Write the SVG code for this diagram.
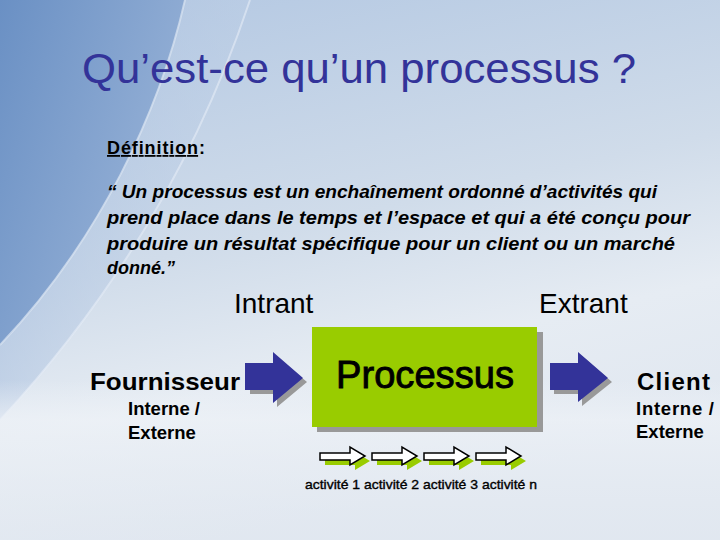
<svg xmlns="http://www.w3.org/2000/svg" width="720" height="540" viewBox="0 0 720 540">
<defs>
<linearGradient id="bg" x1="0" y1="0" x2="0.3" y2="1">
<stop offset="0" stop-color="#b2c7e2"/>
<stop offset="0.5" stop-color="#d0dcea"/>
<stop offset="0.75" stop-color="#e6ecf3"/>
<stop offset="1" stop-color="#e0e7f0"/>
</linearGradient>
<linearGradient id="sw" x1="0" y1="0" x2="1" y2="0.6">
<stop offset="0" stop-color="#6a90c4"/>
<stop offset="1" stop-color="#9ab4d8"/>
</linearGradient>
<linearGradient id="sw2" x1="0" y1="0" x2="1" y2="0.5">
<stop offset="0" stop-color="#a3bbdc" stop-opacity="0.8"/>
<stop offset="1" stop-color="#c3d3e8" stop-opacity="0.3"/>
</linearGradient>
<linearGradient id="hz" x1="0" y1="0" x2="0" y2="1">
<stop offset="0" stop-color="#eef2f7" stop-opacity="0"/>
<stop offset="0.25" stop-color="#eef2f7" stop-opacity="0.7"/>
<stop offset="1" stop-color="#e2e8f0" stop-opacity="0.4"/>
</linearGradient>
<style>
.t{font-family:"Liberation Sans",Arial,sans-serif;}
.b{font-weight:bold;}
.q{font-family:"Liberation Sans",Arial,sans-serif;font-weight:bold;font-style:italic;font-size:18px;fill:#000;}
.lbl{font-family:"Liberation Sans",Arial,sans-serif;font-size:28px;fill:#000;}
.blue{fill:#333399;}
.sh{fill:#999999;}
.act{fill:#ffffff;stroke:#000;stroke-width:1.5;}
.actsh{fill:#99cc00;}
</style>
</defs>
<rect width="720" height="540" fill="url(#bg)"/>
<path d="M0,0 L250,0 C210,120 140,270 0,420 Z" fill="url(#sw2)"/>
<path d="M0,0 L185,0 C160,110 100,240 0,345 Z" fill="url(#sw)"/>
<path d="M0,345 C100,240 160,110 185,0" fill="none" stroke="#dbe5f2" stroke-width="2" opacity="0.7"/>
<path d="M0,420 C140,270 210,120 250,0" fill="none" stroke="#e6edf6" stroke-width="2" opacity="0.6"/>
<rect x="0" y="380" width="720" height="160" fill="url(#hz)"/>

<g id="title"><text class="t" x="82" y="83" font-size="43" fill="#333399" textLength="554" lengthAdjust="spacingAndGlyphs">Qu’est-ce qu’un processus ?</text></g>

<g id="definition">
<text class="t b" x="107" y="154" font-size="18" textLength="98" lengthAdjust="spacing"><tspan text-decoration="underline">Définition</tspan>:</text>
<text class="q" x="107" y="198" textLength="550" lengthAdjust="spacingAndGlyphs">“ Un processus est un enchaînement ordonné d’activités qui</text>
<text class="q" x="107" y="224" textLength="583" lengthAdjust="spacingAndGlyphs">prend place dans le temps et l’espace et qui a été conçu pour</text>
<text class="q" x="107" y="250" textLength="568" lengthAdjust="spacingAndGlyphs">produire un résultat spécifique pour un client ou un marché</text>
<text class="q" x="107" y="274">donné.”</text>
</g>

<g id="intrant"><text class="lbl" x="234" y="313">Intrant</text></g>
<g id="extrant"><text class="lbl" x="539" y="313">Extrant</text></g>

<g id="fournisseur">
<text class="t b" x="90" y="390" font-size="24" textLength="150" lengthAdjust="spacingAndGlyphs">Fournisseur</text>
<text class="t b" x="128" y="415" font-size="18.5">Interne /</text>
<text class="t b" x="128" y="439" font-size="18.5">Externe</text>
</g>

<g id="processus">
<rect x="317" y="332" width="226" height="100" class="sh"/>
<rect x="312" y="327" width="225" height="100" fill="#99cc00"/>
<text class="t" x="425" y="388" font-size="38" text-anchor="middle" textLength="178" lengthAdjust="spacingAndGlyphs" stroke="#000" stroke-width="0.9">Processus</text>
</g>

<g id="client">
<text class="t b" x="637" y="390" font-size="24" textLength="73" lengthAdjust="spacing">Client</text>
<text class="t b" x="636" y="415" font-size="18.5" textLength="78" lengthAdjust="spacing">Interne /</text>
<text class="t b" x="636" y="438" font-size="18.5">Externe</text>
</g>

<g id="connectors">
<path class="sh" d="M250,367 L277,367 L277,357 L307,382 L277,407 L277,394 L250,394 Z"/>
<path class="blue" d="M245,363 L273,363 L273,352 L303,378 L273,403 L273,390 L245,390 Z"/>
<path class="sh" d="M554,367 L582,367 L582,356 L612,382 L582,406 L582,394 L554,394 Z"/>
<path class="blue" d="M550,363 L578,363 L578,352 L608,378 L578,402 L578,390 L550,390 Z"/>
</g>

<g id="activites">
<g transform="translate(320,447)">
<path class="actsh" d="M5,11 L35,11 L35,5 L50,14 L35,23 L35,18 L5,18 Z"/>
<path class="act" d="M0,6 L30,6 L30,0 L45,9 L30,18 L30,13 L0,13 Z"/>
</g>
<g transform="translate(372,447)">
<path class="actsh" d="M5,11 L35,11 L35,5 L50,14 L35,23 L35,18 L5,18 Z"/>
<path class="act" d="M0,6 L30,6 L30,0 L45,9 L30,18 L30,13 L0,13 Z"/>
</g>
<g transform="translate(424,447)">
<path class="actsh" d="M5,11 L35,11 L35,5 L50,14 L35,23 L35,18 L5,18 Z"/>
<path class="act" d="M0,6 L30,6 L30,0 L45,9 L30,18 L30,13 L0,13 Z"/>
</g>
<g transform="translate(476,447)">
<path class="actsh" d="M5,11 L35,11 L35,5 L50,14 L35,23 L35,18 L5,18 Z"/>
<path class="act" d="M0,6 L30,6 L30,0 L45,9 L30,18 L30,13 L0,13 Z"/>
</g>
<text class="t" x="305" y="489" font-size="13" textLength="232" lengthAdjust="spacingAndGlyphs" stroke="#000" stroke-width="0.35">activité 1 activité 2 activité 3 activité n</text>
</g>
</svg>
